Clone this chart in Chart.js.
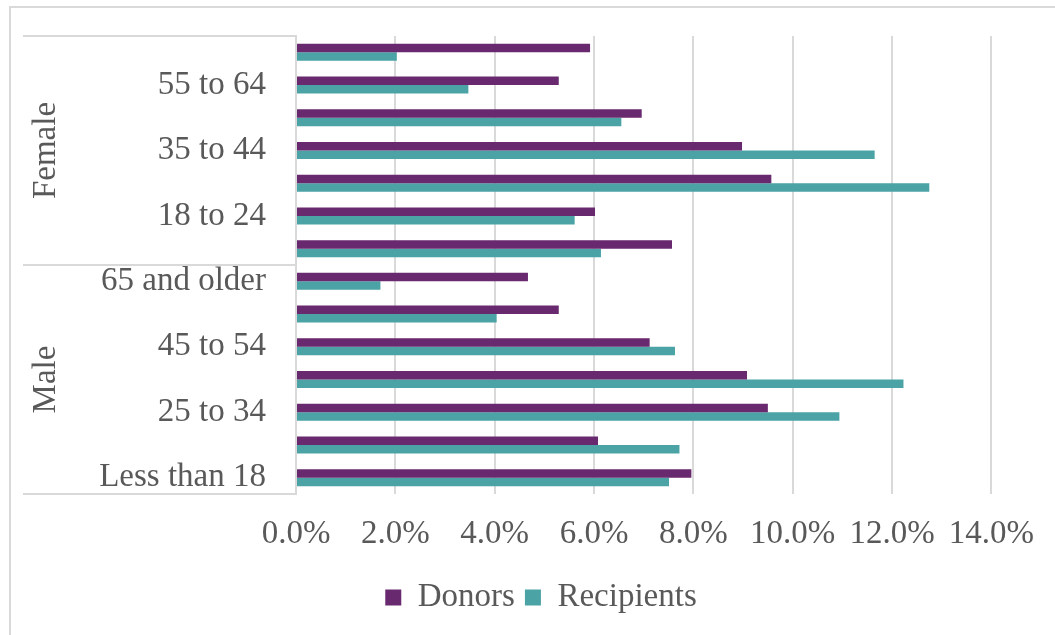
<!DOCTYPE html>
<html>
<head>
<meta charset="utf-8">
<script src="https://cdn.jsdelivr.net/npm/chart.js@4"></script>
<style>
  body { margin: 0; background: #fff; }
  .wrap { width: 1055px; height: 635px; position: relative; }
</style>
</head>
<body>
<div class="wrap"><canvas class="js-chart"></canvas></div>
<script>
const ctx = document.querySelector(".js-chart").getContext("2d");

const genders = ["Female", "Male"];
const ageGroups = ["65 and older", "55 to 64", "45 to 54", "35 to 44", "25 to 34", "18 to 24", "Less than 18"];
// values in %, listed top to bottom (Female block, then Male block)
const donors = [5.92, 5.29, 6.96, 8.98, 9.57, 6.02, 7.57, 4.67, 5.29, 7.12, 9.08, 9.50, 6.08, 7.96];
const recipients = [2.03, 3.47, 6.55, 11.65, 12.75, 5.61, 6.14, 1.70, 4.04, 7.63, 12.23, 10.94, 7.72, 7.51];
const xTicks = [0, 2, 4, 6, 8, 10, 12, 14];

const FONT = "'Liberation Serif', 'Times New Roman', serif";
const TEXT = "#595959";
const LINE = "#d9d9d9";

const labels = genders.flatMap(() => ageGroups);

const frame = {
  id: "frame",
  beforeDraw(chart) {
    const c = chart.ctx;
    c.save();
    c.strokeStyle = LINE;
    c.lineWidth = 2;
    c.beginPath();
    c.moveTo(10, chart.height);
    c.lineTo(10, 7);
    c.lineTo(chart.width, 7);
    c.stroke();
    c.restore();
  },
};

const groupAxis = {
  id: "groupAxis",
  afterDraw(chart) {
    const c = chart.ctx;
    const y = chart.scales.y;
    const { top, bottom, left } = chart.chartArea;
    const n = ageGroups.length;
    const split = (y.getPixelForValue(n - 1) + y.getPixelForValue(n)) / 2;
    c.save();
    c.strokeStyle = LINE;
    c.lineWidth = 2;
    [top, split, bottom].forEach((py) => {
      c.beginPath();
      c.moveTo(23, py);
      c.lineTo(left, py);
      c.stroke();
    });
    c.fillStyle = TEXT;
    c.font = "33px " + FONT;
    c.textAlign = "center";
    c.textBaseline = "middle";
    [[genders[0], (top + split) / 2], [genders[1], (split + bottom) / 2]].forEach(([txt, py]) => {
      c.save();
      c.translate(46, py);
      c.rotate(-Math.PI / 2);
      c.fillText(txt, 0, 0);
      c.restore();
    });
    c.restore();
  },
};

new Chart(ctx, {
  type: "bar",
  data: {
    labels: labels,
    datasets: [
      {
        label: "Donors",
        data: donors,
        backgroundColor: "#68296f",
        borderWidth: 0,
        categoryPercentage: 0.52,
        barPercentage: 1,
      },
      {
        label: "Recipients",
        data: recipients,
        backgroundColor: "#4ba3a5",
        borderWidth: 0,
        categoryPercentage: 0.52,
        barPercentage: 1,
      },
    ],
  },
  plugins: [frame, groupAxis],
  options: {
    indexAxis: "y",
    responsive: true,
    maintainAspectRatio: false,
    animation: false,
    layout: { padding: { top: 36, left: 90, right: 63, bottom: 11 } },
    plugins: {
      tooltip: { enabled: false },
      legend: {
        position: "bottom",
        labels: {
          color: TEXT,
          font: { family: FONT, size: 33 },
          boxWidth: 16,
          boxHeight: 16,
          padding: 10,
        },
      },
    },
    scales: {
      x: {
        min: 0,
        max: 14,
        afterBuildTicks(scale) {
          scale.ticks = xTicks.map((v) => ({ value: v }));
        },
        afterFit(scale) {
          scale.height = 77;
        },
        grid: { color: LINE, lineWidth: 2, drawTicks: false },
        border: { display: false },
        ticks: {
          color: TEXT,
          font: { family: FONT, size: 33 },
          padding: 21,
          maxRotation: 0,
          callback(value) {
            return value.toFixed(1) + "%";
          },
        },
      },
      y: {
        afterFit(scale) {
          scale.width = 206;
          scale.paddingTop = 0;
          scale.paddingBottom = 0;
        },
        grid: { display: false, drawTicks: false },
        border: { display: true, color: LINE, width: 2 },
        ticks: {
          color: TEXT,
          font: { family: FONT, size: 33 },
          padding: 30,
          autoSkip: false,
          callback(value, index) {
            return index % 2 === 1 ? this.getLabelForValue(value) : "";
          },
        },
      },
    },
  },
});
</script>
</body>
</html>
